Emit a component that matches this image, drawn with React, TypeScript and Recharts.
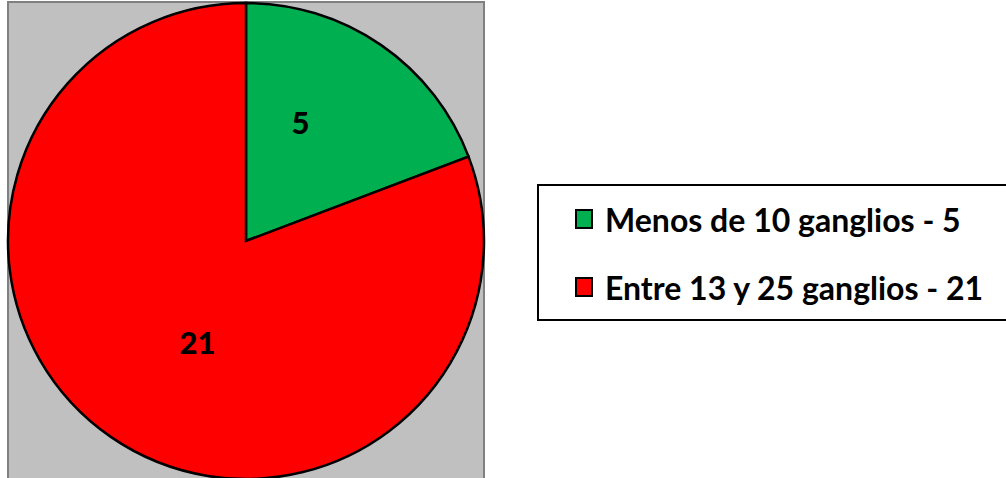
import { PieChart, Pie, Cell, Legend } from 'recharts'

const categories = ['Menos de 10 ganglios', 'Entre 13 y 25 ganglios']
const counts = [5, 21]
const colors = ['#00B050', '#FF0000']

const data = categories.map((name, i) => ({ name, value: counts[i] }))

const FONT = 'Lato, "Open Sans", sans-serif'
const RADIAN = Math.PI / 180

// value label, nudged off the mid angle and raised a little ("best fit" placement)
const renderLabel = (props: any) => {
  const { cx, cy, midAngle, outerRadius, value } = props
  const r = outerRadius * 0.51
  const a = (midAngle + 9.5) * RADIAN
  const x = cx + 3 + r * Math.cos(a)
  const y = cy - 9 - r * Math.sin(a)
  return (
    <text x={x} y={y} textAnchor="middle" dominantBaseline="central" fontFamily={FONT} fontWeight={900} fontSize={31} fill="#000">
      {value}
    </text>
  )
}

const renderLegend = () => (
  <div
    style={{
      border: '2px solid #000',
      background: '#fff',
      width: 480,
      height: 137,
      boxSizing: 'border-box',
      paddingLeft: 36,
      paddingTop: 16,
      fontFamily: FONT,
      fontWeight: 700,
      fontSize: 32,
      color: '#000',
    }}
  >
    {data.map((d, i) => (
      <div key={d.name} style={{ display: 'flex', alignItems: 'center', height: 34, marginBottom: i === 0 ? 34 : 0 }}>
        <span
          style={{
            display: 'inline-block',
            width: 18,
            height: 20,
            boxSizing: 'border-box',
            border: '2px solid #000',
            background: colors[i],
            marginRight: 12,
          }}
        />
        <span style={{ whiteSpace: 'nowrap' }}>{`${d.name} - ${d.value}`}</span>
      </div>
    ))}
  </div>
)

export default function App() {
  return (
    <div style={{ position: 'absolute', left: 0, top: 0, width: 1006, height: 478, overflow: 'hidden', background: '#fff' }}>
      <div
        style={{
          position: 'absolute',
          left: 7,
          top: 1,
          width: 478,
          height: 490,
          boxSizing: 'border-box',
          background: '#C0C0C0',
          border: '2px solid #808080',
        }}
      />
      <PieChart width={1006} height={478} margin={{ top: 0, right: 0, bottom: 0, left: 0 }} style={{ position: 'absolute', left: 0, top: 0 }}>
        <Pie
          data={data}
          dataKey="value"
          nameKey="name"
          cx={246}
          cy={241}
          outerRadius={238}
          startAngle={90}
          endAngle={-270}
          stroke="#000"
          strokeWidth={2.5}
          label={renderLabel}
          labelLine={false}
          isAnimationActive={false}
        >
          {data.map((d, i) => (
            <Cell key={d.name} fill={colors[i]} />
          ))}
        </Pie>
        <Legend content={renderLegend} wrapperStyle={{ left: 537, top: 184, width: 480, bottom: 'auto', right: 'auto' }} />
      </PieChart>
    </div>
  )
}
